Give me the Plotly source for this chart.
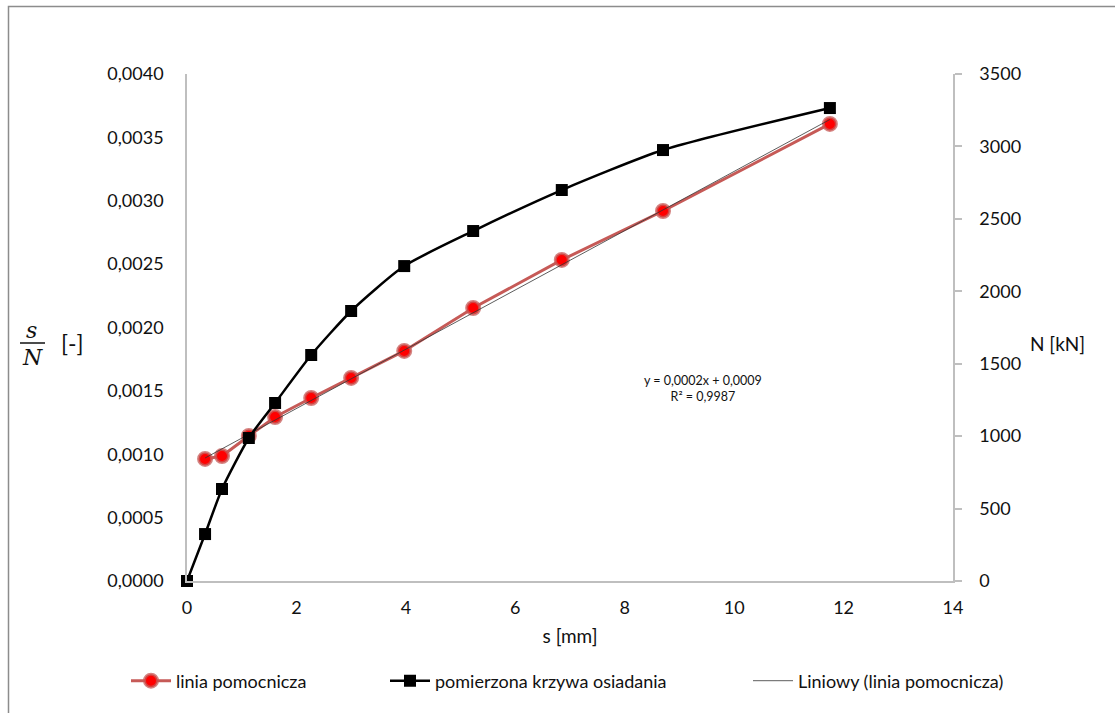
import numpy as np
import plotly.graph_objects as go

# data
s_mm = [0.33, 0.64, 1.13, 1.61, 2.27, 3.00, 3.97, 5.23, 6.85, 8.70, 11.75]
s_over_N = [0.000963, 0.000986, 0.001144, 0.001294, 0.001444, 0.001602,
            0.001815, 0.002154, 0.002533, 0.002919, 0.003606]
s_curve = [0.0] + s_mm
N_kN = [0, 324, 635, 987, 1229, 1560, 1864, 2174, 2416, 2699, 2975, 3265]

name_red = "linia pomocnicza"
name_black = "pomierzona krzywa osiadania"
name_trend = "Liniowy (linia pomocnicza)"
eq_text = "y = 0,0002x + 0,0009<br>R² = 0,9987"

coef = np.polyfit(s_mm, s_over_N, 1)
tx = [min(s_mm), max(s_mm)]
ty = [coef[0] * v + coef[1] for v in tx]

FONT = "Lato"
TXT = "#111111"
fig = go.Figure()

fig.add_trace(go.Scatter(
    x=s_mm, y=s_over_N, name=name_red, mode="lines+markers",
    line=dict(color="#C65A57", width=3),
    marker=dict(symbol="circle", size=13, color="#FF0000",
                line=dict(color="rgba(198,90,87,0.75)", width=3)),
    cliponaxis=False, legend="legend"))
fig.add_trace(go.Scatter(
    x=s_curve, y=N_kN, name=name_black, mode="lines+markers", yaxis="y2",
    line=dict(color="#000000", width=2.5, shape="spline", smoothing=0.6),
    marker=dict(symbol="square", size=12, color="#000000"),
    cliponaxis=False, legend="legend2"))
fig.add_trace(go.Scatter(
    x=tx, y=ty, name=name_trend, mode="lines",
    line=dict(color="#333333", width=0.8),
    legend="legend3"))

axis_col = "#BFBFBF"
tick_font = dict(family=FONT, size=18, color=TXT)

fig.update_layout(
    width=1115, height=713,
    margin=dict(l=187, r=162, t=74, b=132),
    paper_bgcolor="white", plot_bgcolor="white",
    separators=", ",
    font=dict(family=FONT, size=18, color=TXT),
    xaxis=dict(range=[0, 14], dtick=2, tick0=0, showgrid=False, zeroline=False,
               showline=True, linecolor=axis_col, linewidth=1.5, ticks="",
               tickfont=tick_font, ticklabelstandoff=10,
               title=dict(text="s [mm]", font=dict(family=FONT, size=19, color=TXT), standoff=12)),
    yaxis=dict(range=[0, 0.004], dtick=0.0005, tick0=0, tickformat=".4f",
               showgrid=False, zeroline=False, showline=True, linecolor=axis_col,
               linewidth=1.5, ticks="", tickfont=tick_font, ticklabelstandoff=18),
    yaxis2=dict(range=[0, 3500], dtick=500, tick0=0, tickformat="d",
                overlaying="y", side="right", showgrid=False, zeroline=False,
                showline=True, linecolor=axis_col, linewidth=1.5,
                ticks="outside", ticklen=7, tickcolor=axis_col, tickwidth=1.5,
                tickfont=tick_font, ticklabelstandoff=14),
    showlegend=True,
)

leg_common = dict(orientation="h", yanchor="middle", xanchor="left",
                  font=dict(family=FONT, size=18, color=TXT),
                  bgcolor="rgba(0,0,0,0)", itemwidth=40)
fig.update_layout(
    legend=dict(x=(126 - 187) / 766, y=(581 - 681) / 507, **leg_common),
    legend2=dict(x=(385 - 187) / 766, y=(581 - 681) / 507, **leg_common),
    legend3=dict(x=(748 - 187) / 766, y=(581 - 681) / 507, **leg_common),
)

def px_x(p):
    return (p - 187) / 766

def px_y(p):
    return (581 - p) / 507

ann = []
serif = dict(family="DejaVu Serif", size=22, color=TXT)
common = dict(xref="paper", yref="paper", showarrow=False,
              xanchor="center", yanchor="middle")
ann.append(dict(x=px_x(31), y=px_y(330), text="<i>s</i>", font=serif, **common))
ann.append(dict(x=px_x(32), y=px_y(357), text="<i>N</i>", font=serif, **common))
ann.append(dict(x=px_x(72), y=px_y(343), text="[-]",
                font=dict(family=FONT, size=23, color=TXT), **common))
ann.append(dict(x=px_x(1057), y=px_y(343), text="N [kN]",
                font=dict(family=FONT, size=19, color=TXT), **common))
ann.append(dict(x=px_x(703), y=px_y(388), text=eq_text, align="center",
                font=dict(family=FONT, size=12.5, color=TXT), **common))
fig.update_layout(annotations=ann)

fig.add_shape(type="line", xref="paper", yref="paper",
              x0=px_x(20), x1=px_x(45), y0=px_y(343), y1=px_y(343),
              line=dict(color=TXT, width=1.5))
fig.add_shape(type="rect", xref="paper", yref="paper",
              x0=px_x(8.5), x1=px_x(1130), y0=px_y(730), y1=px_y(6.5),
              line=dict(color="#8c8c8c", width=1.5), layer="below")

fig.write_html("out.html")
